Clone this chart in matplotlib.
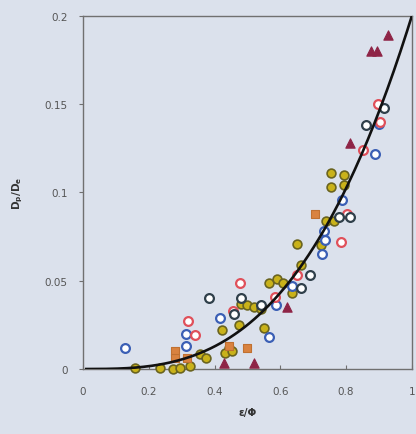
import numpy as np
import matplotlib
matplotlib.use("Agg")
import matplotlib.pyplot as plt

# Data
yellow_x = [0.753, 0.794, 0.753, 0.794, 0.738, 0.763, 0.651, 0.723, 0.662, 0.565, 0.590, 0.608,
            0.636, 0.479, 0.499, 0.519, 0.540, 0.475, 0.423, 0.550, 0.443, 0.433, 0.453, 0.357,
            0.375, 0.159, 0.233, 0.275, 0.296, 0.324]
yellow_y = [0.111, 0.110, 0.103, 0.104, 0.084, 0.084, 0.071, 0.070, 0.059, 0.049, 0.051, 0.049,
            0.043, 0.037, 0.036, 0.035, 0.034, 0.025, 0.022, 0.023, 0.012, 0.009, 0.010, 0.0085,
            0.006, 0.0004, 0.0004, 0.0, 0.0004, 0.0015]

blue_x = [0.128, 0.314, 0.314, 0.418, 0.565, 0.588, 0.636, 0.727, 0.733, 0.787, 0.888, 0.900, 0.735]
blue_y = [0.012, 0.020, 0.013, 0.029, 0.018, 0.036, 0.047, 0.065, 0.078, 0.096, 0.122, 0.139, 0.073]

red_x = [0.319, 0.341, 0.477, 0.456, 0.585, 0.651, 0.784, 0.802, 0.853, 0.898, 0.903]
red_y = [0.027, 0.019, 0.049, 0.033, 0.041, 0.053, 0.072, 0.088, 0.124, 0.150, 0.140]

dark_x = [0.382, 0.482, 0.460, 0.540, 0.662, 0.690, 0.778, 0.812, 0.860, 0.916]
dark_y = [0.040, 0.040, 0.031, 0.036, 0.046, 0.053, 0.086, 0.086, 0.138, 0.148]

square_x = [0.707, 0.499, 0.280, 0.280, 0.316, 0.443]
square_y = [0.088, 0.012, 0.010, 0.006, 0.006, 0.013]

tri_x = [0.430, 0.519, 0.621, 0.812, 0.875, 0.893, 0.926]
tri_y = [0.0034, 0.0034, 0.035, 0.128, 0.180, 0.180, 0.189]

x_ticks = [0, 0.2, 0.4, 0.6, 0.8, 1]
x_tick_labels = ["0", "0.2", "0.4", "0.6", "0.8", "1"]
y_ticks = [0, 0.05, 0.1, 0.15, 0.2]
y_tick_labels = ["0", "0.05", "0.1", "0.15", "0.2"]

bg = "#dbe1ec"
fig = plt.figure(figsize=(4.16, 4.35), dpi=100, facecolor=bg)
ax = fig.add_axes([0.1995, 0.1494, 0.7905, 0.8116], facecolor=bg)

s = 40
lw = 1.6
ax.scatter(yellow_x, yellow_y, s=s, marker="o", facecolor="#c9b21a", edgecolor="#6a6420", linewidth=1.2, zorder=3, clip_on=False)
ax.scatter(blue_x, blue_y, s=s, marker="o", facecolor="white", edgecolor="#3b5fb5", linewidth=lw, zorder=3, clip_on=False)
ax.scatter(red_x, red_y, s=s, marker="o", facecolor="white", edgecolor="#e0505a", linewidth=lw, zorder=3, clip_on=False)
ax.scatter(dark_x, dark_y, s=s, marker="o", facecolor="white", edgecolor="#2f3f4a", linewidth=lw, zorder=3, clip_on=False)
ax.scatter(square_x, square_y, s=38, marker="s", facecolor="#d9823f", edgecolor="#c07030", linewidth=0.8, zorder=3, clip_on=False)
ax.scatter(tri_x, tri_y, s=45, marker="^", facecolor="#8e2446", edgecolor="#8e2446", linewidth=0.8, zorder=3, clip_on=False)

xc = np.linspace(0.01, 1.0, 200)
ax.plot(xc, 0.2 * xc ** 3, color="#111111", linewidth=1.9, zorder=4)

ax.set_xlim(0, 1)
ax.set_ylim(0, 0.2)
ax.set_xticks(x_ticks)
ax.set_xticklabels(x_tick_labels)
ax.set_yticks(y_ticks)
ax.set_yticklabels(y_tick_labels)

for sp in ax.spines.values():
    sp.set_color("#707070")
    sp.set_linewidth(1.0)

ax.tick_params(axis="x", direction="in", length=3, color="#707070", labelsize=7.5,
               labelcolor="#555555", pad=12)
ax.tick_params(axis="y", direction="out", length=3, color="#707070", labelsize=7.5,
               labelcolor="#555555", pad=8)

ax.set_xlabel("ε/Φ", fontsize=7.5, fontweight="bold", color="#333333", labelpad=8)
ax.set_ylabel("D$_\\mathbf{p}$/D$_\\mathbf{e}$", fontsize=7.5, fontweight="bold", color="#333333", labelpad=14)

fig.savefig("out.png", dpi=100, facecolor=bg)
